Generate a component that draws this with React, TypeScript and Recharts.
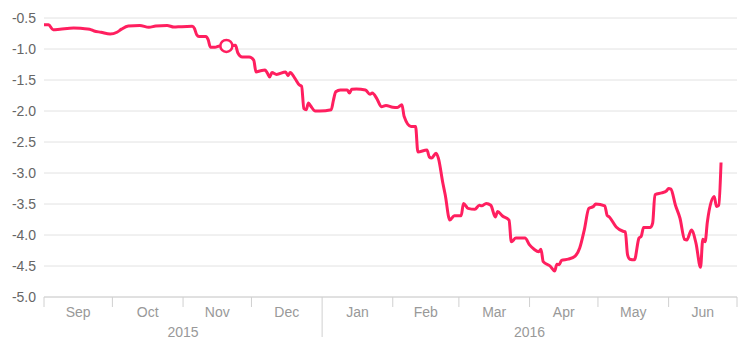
import React from 'react';
import {
  CartesianGrid,
  Line,
  LineChart,
  ReferenceDot,
  XAxis,
  YAxis,
} from 'recharts';

const dates = [
  '2015-09-01', '2015-09-03', '2015-09-05', '2015-09-08', '2015-09-14', '2015-09-18',
  '2015-09-21', '2015-09-23', '2015-09-26', '2015-09-30', '2015-10-03', '2015-10-05',
  '2015-10-08', '2015-10-13', '2015-10-17', '2015-10-20', '2015-10-25', '2015-10-28',
  '2015-10-31', '2015-11-05', '2015-11-06', '2015-11-07', '2015-11-08', '2015-11-11',
  '2015-11-12', '2015-11-13', '2015-11-15', '2015-11-17', '2015-11-20', '2015-11-24',
  '2015-11-25', '2015-11-27', '2015-11-30', '2015-12-02', '2015-12-03', '2015-12-05',
  '2015-12-07', '2015-12-08', '2015-12-09', '2015-12-10', '2015-12-12', '2015-12-16',
  '2015-12-17', '2015-12-18', '2015-12-20', '2015-12-22', '2015-12-23', '2015-12-24',
  '2015-12-25', '2015-12-26', '2015-12-27', '2015-12-29', '2015-12-31', '2016-01-05',
  '2016-01-06', '2016-01-07', '2016-01-09', '2016-01-12', '2016-01-13', '2016-01-14',
  '2016-01-16', '2016-01-20', '2016-01-22', '2016-01-23', '2016-01-25', '2016-01-27',
  '2016-01-29', '2016-02-01', '2016-02-03', '2016-02-05', '2016-02-06', '2016-02-09',
  '2016-02-11', '2016-02-12', '2016-02-16', '2016-02-17', '2016-02-18', '2016-02-20',
  '2016-02-21', '2016-02-23', '2016-02-24', '2016-02-26', '2016-02-28', '2016-03-02',
  '2016-03-03', '2016-03-05', '2016-03-08', '2016-03-10', '2016-03-11', '2016-03-13',
  '2016-03-15', '2016-03-17', '2016-03-18', '2016-03-20', '2016-03-23', '2016-03-24',
  '2016-03-26', '2016-03-30', '2016-04-01', '2016-04-03', '2016-04-05', '2016-04-06',
  '2016-04-07', '2016-04-10', '2016-04-12', '2016-04-13', '2016-04-14', '2016-04-15',
  '2016-04-18', '2016-04-21', '2016-04-23', '2016-04-25', '2016-04-27', '2016-04-29',
  '2016-04-30', '2016-05-04', '2016-05-05', '2016-05-06', '2016-05-09', '2016-05-12',
  '2016-05-13', '2016-05-14', '2016-05-15', '2016-05-17', '2016-05-19', '2016-05-20',
  '2016-05-21', '2016-05-24', '2016-05-25', '2016-05-26', '2016-05-29', '2016-05-31',
  '2016-06-01', '2016-06-02', '2016-06-04', '2016-06-06', '2016-06-08', '2016-06-09',
  '2016-06-11', '2016-06-13', '2016-06-15', '2016-06-16', '2016-06-17', '2016-06-18',
  '2016-06-21', '2016-06-22', '2016-06-23', '2016-06-24',
];

const values = [
  -0.61, -0.61, -0.69, -0.68, -0.66, -0.67,
  -0.68, -0.71, -0.73, -0.76, -0.73, -0.68,
  -0.63, -0.62, -0.65, -0.63, -0.62, -0.645,
  -0.64, -0.635, -0.67, -0.77, -0.8, -0.8,
  -0.85, -0.97, -0.97, -0.95, -0.95, -0.94,
  -1.06, -1.13, -1.13, -1.18, -1.37, -1.35,
  -1.34, -1.39, -1.45, -1.38, -1.41, -1.37,
  -1.43, -1.38, -1.47, -1.58, -1.6, -1.96,
  -1.98, -1.87, -1.92, -2.0, -2.0, -1.98,
  -1.82, -1.69, -1.66, -1.66, -1.71, -1.65,
  -1.645, -1.66, -1.73, -1.71, -1.8, -1.93,
  -1.91, -1.94, -1.945, -1.9, -2.09, -2.25,
  -2.25, -2.66, -2.63, -2.74, -2.76, -2.68,
  -2.76, -3.17, -3.35, -3.76, -3.69, -3.69,
  -3.49, -3.57, -3.585, -3.52, -3.53, -3.49,
  -3.52, -3.71, -3.62, -3.69, -3.76, -4.11,
  -4.05, -4.05, -4.16, -4.23, -4.27, -4.23,
  -4.43, -4.5, -4.58, -4.47, -4.48, -4.41,
  -4.39, -4.34, -4.21, -3.92, -3.57, -3.54,
  -3.5, -3.53, -3.68, -3.71, -3.87, -3.94,
  -3.95, -4.32, -4.39, -4.4, -4.05, -4.02,
  -3.88, -3.88, -3.81, -3.35, -3.32, -3.29,
  -3.25, -3.26, -3.52, -3.73, -4.07, -4.08,
  -3.92, -4.13, -4.52, -4.07, -4.11, -3.79,
  -3.38, -3.54, -3.52, -2.83,
];

const markerDate = '2015-11-20';
const markerValue = -0.95;

const monthStarts = [
  '2015-09-01', '2015-10-01', '2015-11-01', '2015-12-01', '2016-01-01', '2016-02-01',
  '2016-03-01', '2016-04-01', '2016-05-01', '2016-06-01', '2016-07-01',
];
const monthLabels = ['Sep', 'Oct', 'Nov', 'Dec', 'Jan', 'Feb', 'Mar', 'Apr', 'May', 'Jun'];

const yearBounds = ['2015-09-01', '2016-01-01', '2016-07-01'];
const yearLabels = ['2015', '2016'];

const yTicks = [-5, -4.5, -4, -3.5, -3, -2.5, -2, -1.5, -1, -0.5];

const DAY = 86400000;
const origin = Date.parse(dates[0]);
const toDay = (s: string) => Math.round((Date.parse(s) - origin) / DAY);

const data = dates.map((d, i) => ({ day: toDay(d), value: values[i] }));
const monthTicks = monthStarts.map(toDay);
const monthMids = monthLabels.map((_, i) => (monthTicks[i] + monthTicks[i + 1]) / 2);
const yearTicks = yearLabels.map(
  (_, i) => (toDay(yearBounds[i]) + toDay(yearBounds[i + 1])) / 2,
);
const yearBreaks = yearBounds.slice(1, -1).map(toDay);
const domain = [monthTicks[0], monthTicks[monthTicks.length - 1]];

const LINE_COLOR = '#ff1f5f';
const FONT = '"Liberation Sans", Arial, sans-serif';

const MonthTick = ({ x, y, payload }: any) => {
  const long = yearBreaks.includes(payload.value);
  return <line x1={x} x2={x} y1={y} y2={y + (long ? 40 : 10)} stroke="#d0d0d0" />;
};

export default function App() {
  return (
    <div style={{ position: 'absolute', left: 0, top: 0 }}>
      <LineChart
        width={744}
        height={350}
        data={data}
        margin={{ top: 18, right: 7, bottom: 0, left: 0 }}
      >
        <CartesianGrid vertical={false} stroke="#e2e2e2" />
        <XAxis
          dataKey="day"
          type="number"
          domain={domain}
          ticks={monthTicks}
          interval={0}
          height={10}
          tickSize={0}
          tickMargin={0}
          tickLine={false}
          tick={<MonthTick />}
          stroke="#d0d0d0"
        />
        <XAxis
          xAxisId="month"
          dataKey="day"
          type="number"
          domain={domain}
          ticks={monthMids}
          interval={0}
          height={20}
          tickSize={0}
          tickMargin={0}
          axisLine={false}
          tickLine={false}
          tickFormatter={(_, i) => monthLabels[i]}
          tick={{ fill: '#999', fontSize: 14, fontFamily: FONT }}
        />
        <XAxis
          xAxisId="year"
          dataKey="day"
          type="number"
          domain={domain}
          ticks={yearTicks}
          interval={0}
          height={23}
          tickSize={0}
          tickMargin={0}
          axisLine={false}
          tickLine={false}
          tickFormatter={(_, i) => yearLabels[i]}
          tick={{ fill: '#999', fontSize: 14, fontFamily: FONT }}
        />
        <YAxis
          type="number"
          domain={[-5, -0.5]}
          ticks={yTicks}
          interval={0}
          width={44}
          axisLine={false}
          tickLine={false}
          tickFormatter={(v: number) => v.toFixed(1)}
          tick={{ fill: '#666', fontSize: 14, fontFamily: FONT }}
        />
        <Line
          type="monotone"
          dataKey="value"
          stroke={LINE_COLOR}
          strokeWidth={3}
          strokeLinejoin="round"
          dot={false}
          activeDot={false}
          isAnimationActive={false}
        />
        <ReferenceDot
          x={toDay(markerDate)}
          y={markerValue}
          r={6}
          fill="#fff"
          stroke={LINE_COLOR}
          strokeWidth={2.5}
        />
      </LineChart>
    </div>
  );
}
